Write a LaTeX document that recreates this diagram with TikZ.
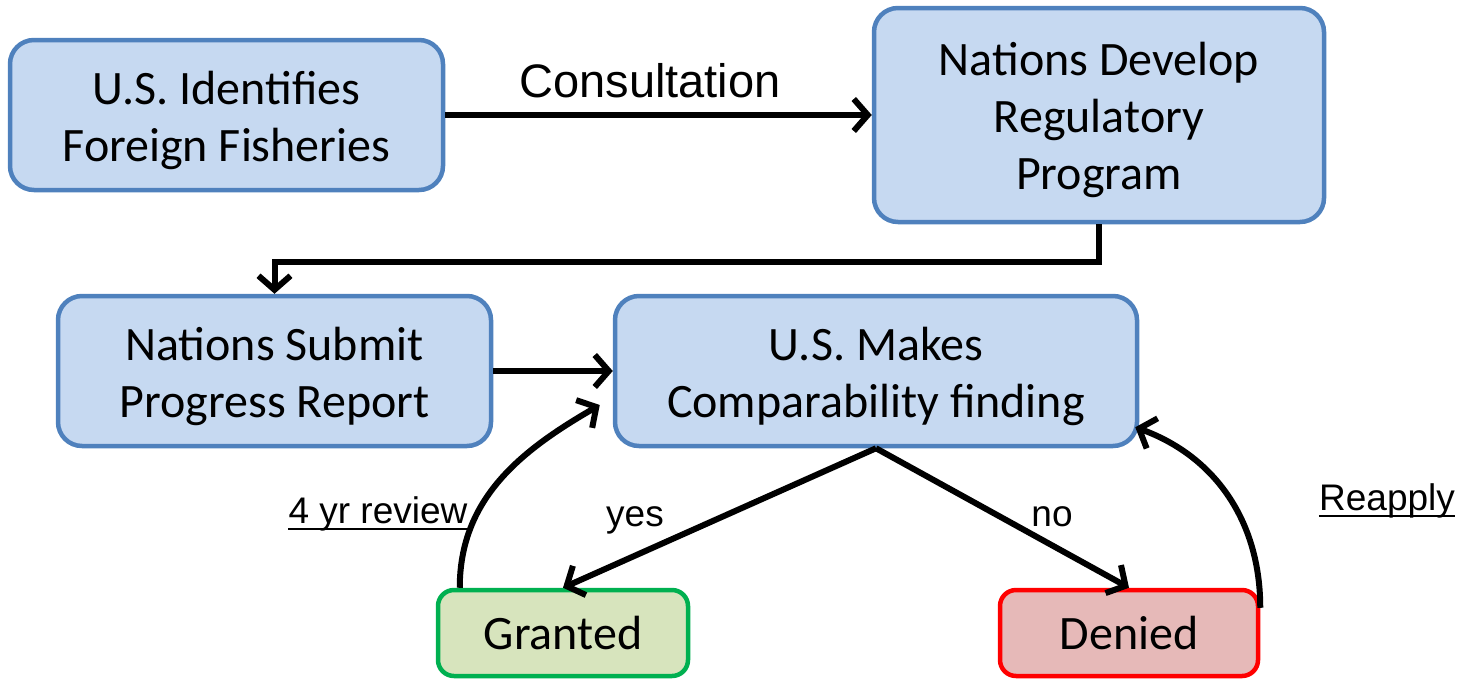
\documentclass[tikz,border=0pt]{standalone}
\usepackage{fontspec}
\setmainfont{Carlito}
\newfontfamily\lab{Liberation Sans}
\usetikzlibrary{arrows.meta}
\definecolor{bluebd}{HTML}{4F81BD}
\definecolor{bluefill}{HTML}{C6D9F1}
\definecolor{greenbd}{HTML}{00B050}
\definecolor{greenfill}{HTML}{D7E4BD}
\definecolor{redbd}{HTML}{FF0000}
\definecolor{redfill}{HTML}{E6B9B8}
\newcommand\topst{\rule{0pt}{44pt}}
\tikzset{
  box/.style={draw=bluebd, fill=bluefill, line width=4.5pt, rounded corners=24pt,
    align=center, inner sep=0pt, font=\fontsize{48}{57}\selectfont},
  bluebox/.style={box},
  okbox/.style={box, draw=greenbd, fill=greenfill, rounded corners=16pt},
  nobox/.style={box, draw=redbd, fill=redfill, rounded corners=16pt},
  conn/.style={line width=6pt, -{Straight Barb[length=14pt,width=32pt,line width=6pt]}},
  lbl/.style={inner sep=0pt, anchor=base, font=\lab\fontsize{37}{40}\selectfont},
  biglbl/.style={lbl, font=\lab\fontsize{47}{50}\selectfont},
  uline/.style={line width=2pt}
}
\begin{document}
\begin{tikzpicture}[x=1pt,y=-1pt]
\useasboundingbox (0,0) rectangle (1469,678);
\node[bluebox, minimum width=433pt, minimum height=150pt] (b1) at (226.5,115) {\topst U.S. Identifies\\Foreign Fisheries};
\node[bluebox, minimum width=450pt, minimum height=214pt] (b2) at (1099,115) {\topst Nations Develop\\Regulatory\\Program};
\node[bluebox, minimum width=433pt, minimum height=150pt] (b3) at (274.5,371) {\topst Nations Submit\\Progress Report};
\node[bluebox, minimum width=522pt, minimum height=150pt] (b4) at (876,371) {\topst U.S. Makes\\Comparability finding};
\node[okbox, minimum width=250pt, minimum height=86pt] (g) at (563,633) {Granted};
\node[nobox, minimum width=258pt, minimum height=86pt] (d) at (1129,633) {Denied};

\node[biglbl] (lc) at (650,97) {Consultation};
\node[lbl] (ly) at (635,526) {yes};
\node[lbl] (ln) at (1052,526) {no};
\node[lbl] (lr) at (378,523) {4 yr review};
\node[lbl] (la) at (1387,510) {Reapply};
\draw[uline] ([yshift=-6pt]lr.base west) -- ([yshift=-6pt]lr.base east);
\draw[uline] ([yshift=-6pt]la.base west) -- ([yshift=-6pt]la.base east);

\coordinate (gs) at ([xshift=24pt]g.north west);
\coordinate (gt) at ([xshift=-13pt,yshift=-34pt]b4.west);
\coordinate (ds) at ([yshift=-20pt]d.north east);
\coordinate (dt) at ([xshift=-4pt,yshift=21pt]b4.south east);

\draw[conn] (b1.east) -- (b2.west);
\draw[conn] (b2.south) -- ++(0,38) -| (b3.north);
\draw[conn] (b3.east) -- (b4.west);
\draw[conn] (b4.south) -- (g.north);
\draw[conn] (b4.south) -- (d.north);
\draw[conn] (gs) to[out=90,in=210] (gt);
\draw[conn] (ds) to[out=90,in=-20] (dt);
\end{tikzpicture}
\end{document}
